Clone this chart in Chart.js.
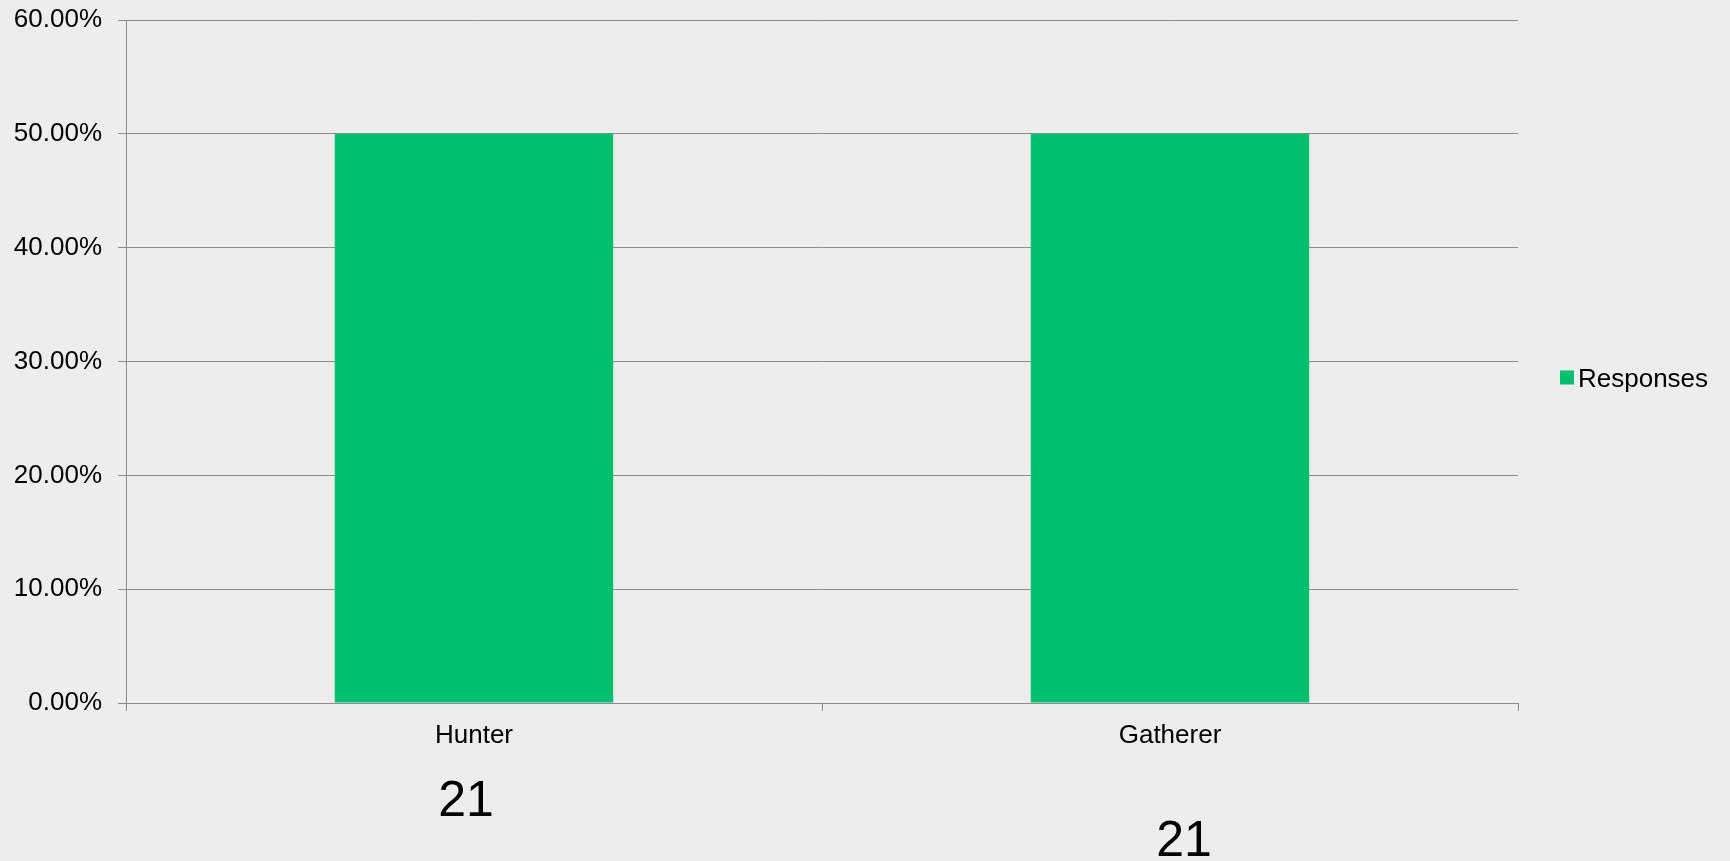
<!DOCTYPE html>
<html>
<head>
<meta charset="utf-8">
<script src="https://cdn.jsdelivr.net/npm/chart.js@4"></script>
<style>
  html, body { margin: 0; padding: 0; background: #ededed; }
  #wrap { width: 1730px; height: 861px; }
</style>
</head>
<body>
<div id="wrap"><canvas id="respChart" width="1730" height="861"></canvas></div>
<script>
const categories = ['Hunter', 'Gatherer'];
const shares = [0.5, 0.5];          // fraction of responses
const counts = [21, 21];            // number of responses written under each category
const yTicks = [0, 0.1, 0.2, 0.3, 0.4, 0.5, 0.6];

const green = '#00bf6f';
const grey = '#8c8c8c';
const fontFamily = '"Liberation Sans", Arial, sans-serif';

// count labels under the axis, and the legend at the right
const extras = {
    id: 'extras',
    afterDraw(chart) {
        const ctx = chart.ctx;
        const area = chart.chartArea;
        const x = chart.scales.x;
        const nudge = [{dx: -8, dy: 113}, {dx: 14, dy: 153}];
        ctx.save();
        ctx.fillStyle = '#000';
        ctx.font = '50px ' + fontFamily;
        ctx.textAlign = 'center';
        ctx.textBaseline = 'alphabetic';
        counts.forEach(function (c, i) {
            ctx.fillText(String(c), x.getPixelForValue(i) + nudge[i].dx, area.bottom + nudge[i].dy);
        });

        // legend
        const ds = chart.data.datasets[0];
        const lx = area.right + 42;
        const ly = (area.top + area.bottom) / 2 + 16;
        ctx.fillStyle = ds.backgroundColor;
        ctx.fillRect(lx, ly - 7, 14, 14);
        ctx.fillStyle = '#000';
        ctx.font = '26px ' + fontFamily;
        ctx.textAlign = 'left';
        ctx.fillText(ds.label, lx + 18, ly + 9);
        ctx.restore();
    }
};

const chart = new Chart(document.getElementById('respChart').getContext('2d'), {
    type: 'bar',
    data: {
        labels: categories,
        datasets: [{
            label: 'Responses',
            data: shares,
            backgroundColor: green,
            borderWidth: 0,
            barPercentage: 0.8,
            categoryPercentage: 0.5
        }]
    },
    options: {
        responsive: false,
        animation: false,
        layout: {
            padding: {left: 0, right: 212, top: 20, bottom: 0}
        },
        plugins: {
            legend: {display: false},
            tooltip: {enabled: false}
        },
        scales: {
            y: {
                min: 0,
                max: 0.6,
                afterBuildTicks: function (scale) {
                    scale.ticks = yTicks.map(v => ({value: v}));
                },
                afterFit: function (scale) {
                    scale.width = 126;
                    scale.paddingTop = 0;
                    scale.paddingBottom = 0;
                },
                ticks: {
                    color: '#000',
                    padding: 16,
                    font: {family: fontFamily, size: 26},
                    callback: v => (v * 100).toFixed(2) + '%'
                },
                grid: {
                    color: grey,
                    lineWidth: 1,
                    tickLength: 8
                },
                border: {color: grey, width: 1}
            },
            x: {
                afterFit: function (scale) {
                    scale.height = 158;
                },
                ticks: {
                    color: '#000',
                    padding: 9,
                    font: {family: fontFamily, size: 26}
                },
                grid: {
                    offset: true,
                    drawOnChartArea: false,
                    color: grey,
                    tickLength: 8
                },
                border: {color: grey, width: 1}
            }
        }
    },
    plugins: [extras]
});
</script>
</body>
</html>
